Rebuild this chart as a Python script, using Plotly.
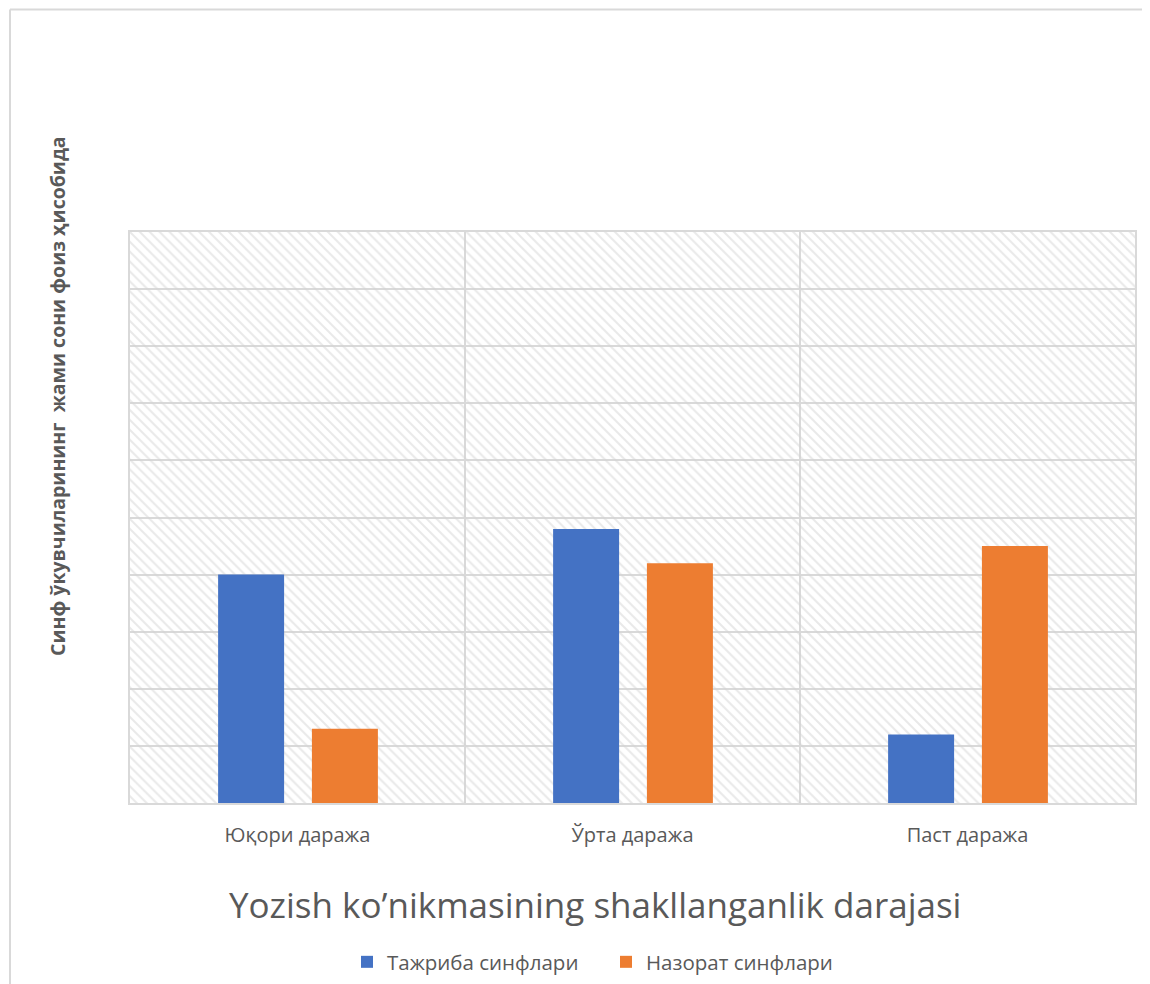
import plotly.graph_objects as go

categories = ["Юқори даража", "Ўрта даража", "Паст даража"]
series_names = ["Тажриба синфлари", "Назорат синфлари"]
tajriba = [40, 48, 12]
nazorat = [13, 42, 45]
y_max = 100
y_step = 10

OFF = 8  # default page body margin
W, H = 1150 - OFF, 984 - OFF
# plot area in reference page pixels: x 130..1135, y 232..803
L, T = 130 - OFF, 232 - OFF
R = W - (1135 - OFF)
B = H - (803 - OFF)
pw = W - L - R
ph = H - T - B

def px_x(p):
    return (p - OFF - L) / pw

def px_y(p):
    return (H - B - (p - OFF)) / ph

GRAY_TXT = "#595959"
GRID = "#d9d9d9"
FONT = "Open Sans"

xpos = list(range(len(categories)))

fig = go.Figure()

# hatched plot-area background
fig.add_trace(go.Bar(
    x=[(len(categories) - 1) / 2], y=[y_max], width=[len(categories)],
    marker=dict(color="rgba(0,0,0,0)", line=dict(width=0),
                pattern=dict(shape="\\", fgcolor="#d4d4d4", bgcolor="rgba(0,0,0,0)",
                             size=7, solidity=0.3)),
    showlegend=False, hoverinfo="skip",
))

fig.add_trace(go.Bar(
    x=xpos, y=tajriba, name=series_names[0], width=0.197, offset=-0.237,
    marker=dict(color="#4472C4", line=dict(width=0)),
))
fig.add_trace(go.Bar(
    x=xpos, y=nazorat, name=series_names[1], width=0.197, offset=0.043,
    marker=dict(color="#ED7D31", line=dict(width=0)),
))

fig.update_layout(
    width=W, height=H,
    margin=dict(l=L, r=R, t=T, b=B, autoexpand=False),
    barmode="overlay",
    paper_bgcolor="white",
    plot_bgcolor="white",
    font=dict(family=FONT, color=GRAY_TXT, size=16),
    xaxis=dict(
        range=[-0.5, len(categories) - 0.5],
        tickvals=xpos, ticktext=categories, automargin=False,
        tickfont=dict(size=20, color=GRAY_TXT, family=FONT),
        showgrid=False, zeroline=False,
        showline=True, mirror=True, linecolor=GRID, linewidth=2,
        ticks="", ticklabelstandoff=13,
        minor=dict(tickvals=[i + 0.5 for i in xpos[:-1]], showgrid=True,
                   gridcolor=GRID, gridwidth=2, ticks=""),
    ),
    yaxis=dict(
        range=[0, y_max], dtick=y_step, showticklabels=False, automargin=False,
        showgrid=True, gridcolor=GRID, gridwidth=2, zeroline=False,
        showline=True, mirror=True, linecolor=GRID, linewidth=2, ticks="",
    ),
    legend=dict(
        orientation="h", x=px_x(606), y=px_y(962), xanchor="center", yanchor="middle",
        font=dict(size=20.5, color=GRAY_TXT, family=FONT),
        traceorder="normal", entrywidth=214,
    ),
    showlegend=True,
)

fig.add_annotation(
    text="Yozish ko’nikmasining shakllanganlik darajasi",
    xref="paper", yref="paper", x=px_x(595), y=px_y(905),
    xanchor="center", yanchor="middle", showarrow=False,
    font=dict(size=35, color=GRAY_TXT, family=FONT),
)
fig.add_annotation(
    text="<b>Синф ўкувчиларининг  жами сони фоиз ҳисобида</b>",
    xref="paper", yref="paper", x=px_x(57), y=px_y(396),
    xanchor="center", yanchor="middle", showarrow=False, textangle=-90,
    font=dict(size=19.5, color=GRAY_TXT, family=FONT),
)

# outer chart border (top and left edges visible)
fig.add_shape(type="line", xref="paper", yref="paper",
              x0=px_x(10), x1=px_x(1160), y0=px_y(9.5), y1=px_y(9.5),
              line=dict(color=GRID, width=2))
fig.add_shape(type="line", xref="paper", yref="paper",
              x0=px_x(10), x1=px_x(10), y0=px_y(9.5), y1=px_y(1000),
              line=dict(color=GRID, width=2))

fig.write_html("out.html")
